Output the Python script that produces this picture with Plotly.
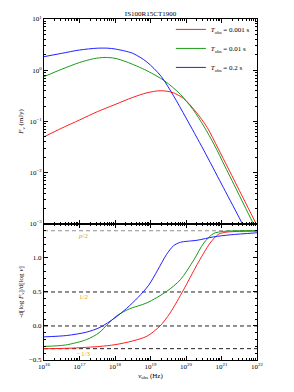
import plotly.graph_objects as go

# ---------------- data ----------------
title_text = "IS100R15CT1900"
labels = ["<i>T</i><sub>obs</sub> = 0.001 s", "<i>T</i><sub>obs</sub> = 0.01 s", "<i>T</i><sub>obs</sub> = 0.2 s"]
colors = ["#ff2020", "#1a9a1a", "#2020ff"]

# top panel: log10(nu) and flux density F_nu (mJy)
nu_red_top = [16, 16.5, 17, 17.5, 18, 18.5, 18.9, 19.27, 19.6, 19.93, 20.3, 20.6, 20.9, 21.2, 21.6, 22]
F_red = [0.0501, 0.0741, 0.107, 0.155, 0.214, 0.295, 0.363, 0.398, 0.372, 0.282, 0.148, 0.0759, 0.0302, 0.01175, 0.00331, 0.000933]

nu_green_top = [16, 16.5, 17, 17.4, 17.72, 18, 18.33, 18.9, 19.4, 19.84, 20.2, 20.5, 20.8, 21.1, 21.5, 22]
F_green = [0.750, 1.047, 1.413, 1.679, 1.778, 1.710, 1.452, 0.977, 0.617, 0.339, 0.170, 0.0813, 0.0347, 0.01318, 0.00363, 0.000724]

nu_blue_top = [16, 16.5, 17, 17.5, 17.8, 18, 18.5, 18.9, 19.3, 19.65, 20, 20.5, 21, 21.5, 22]
F_blue = [1.841, 2.138, 2.483, 2.692, 2.692, 2.600, 2.138, 1.445, 0.759, 0.316, 0.1175, 0.0275, 0.00603, 0.00132, 0.000282]

# bottom panel: spectral index -dlogF/dlognu
nu_red_bot = [16, 16.8, 17.58, 18, 18.5, 18.9, 19.27, 19.55, 19.93, 20.31, 20.68, 20.92, 21.15, 21.5, 22]
s_red = [-0.335, -0.325, -0.30, -0.275, -0.22, -0.15, 0.0, 0.19, 0.53, 0.90, 1.22, 1.35, 1.38, 1.39, 1.395]

nu_green_bot = [16, 16.6, 17.2, 17.55, 17.8, 18.05, 18.4, 18.9, 19.46, 19.84, 20.22, 20.5, 20.78, 21.06, 21.5, 22]
s_green = [-0.30, -0.28, -0.20, -0.10, 0.03, 0.15, 0.25, 0.34, 0.51, 0.68, 0.97, 1.22, 1.36, 1.39, 1.40, 1.40]

nu_blue_bot = [16, 16.64, 17.2, 17.58, 18, 18.33, 18.65, 18.95, 19.2, 19.45, 19.65, 19.84, 20.31, 20.78, 21.25, 22]
s_blue = [-0.16, -0.14, -0.09, -0.02, 0.12, 0.26, 0.42, 0.60, 0.82, 1.05, 1.18, 1.23, 1.26, 1.31, 1.34, 1.37]

ref_values = [1.4, 0.5, 0.0, -1/3]
ref_colors = ["#909090", "#222222", "#222222", "#222222"]
ref_labels = ["<i>p</i>/2", "1/2", None, "\u22121/3"]

x_tickvals = [16, 17, 18, 19, 20, 21, 22]
x_ticktext = ["10<sup>%d</sup>" % v for v in x_tickvals]
y1_tickvals = [1e-3, 1e-2, 1e-1, 1e0, 1e1]
y1_ticktext = ["10<sup>\u22123</sup>", "10<sup>\u22122</sup>", "10<sup>\u22121</sup>", "10<sup>0</sup>", "10<sup>1</sup>"]
y2_tickvals = [-0.5, 0.0, 0.5, 1.0]
y2_ticktext = ["\u22120.5", "0.0", "0.5", "1.0"]

# ---------------- figure ----------------
FONT = "Liberation Serif"
fig = go.Figure()

tops = [(nu_red_top, F_red), (nu_green_top, F_green), (nu_blue_top, F_blue)]
bots = [(nu_red_bot, s_red), (nu_green_bot, s_green), (nu_blue_bot, s_blue)]

for (x, y), c, lab in zip(tops, colors, labels):
    fig.add_trace(go.Scatter(x=[10.0 ** v for v in x], y=y, mode="lines", name=lab,
                             line=dict(color=c, width=1, shape="spline", smoothing=0.8),
                             xaxis="x", yaxis="y"))

for v, c in zip(ref_values, ref_colors):
    fig.add_trace(go.Scatter(x=[1e16, 1e22], y=[v, v], mode="lines", showlegend=False,
                             line=dict(color=c, width=1, dash="4px,3px"),
                             xaxis="x2", yaxis="y2"))

for (x, y), c in zip(bots, colors):
    fig.add_trace(go.Scatter(x=[10.0 ** v for v in x], y=y, mode="lines", showlegend=False,
                             line=dict(color=c, width=1, shape="spline", smoothing=0.8),
                             xaxis="x2", yaxis="y2"))

for v, lab in zip(ref_values, ref_labels):
    if lab:
        fig.add_annotation(x=17.1, y=v - 0.075, xref="x2", yref="y2", text=lab,
                           showarrow=False, yanchor="middle", xanchor="center",
                           font=dict(family=FONT, size=7, color="#f0a020"))

split = 0.399
axis_common = dict(showline=True, linecolor="black", linewidth=1, mirror="allticks",
                   ticks="inside", ticklen=4, tickcolor="black", showgrid=False,
                   zeroline=False, tickfont=dict(family=FONT, size=7, color="black"))

x_tv = [10.0 ** v for v in x_tickvals]

# the page places the figure 8 px in from the top-left corner
fig.update_layout(
    width=286, height=384,
    margin=dict(l=36, r=37, t=11, b=32, autoexpand=False),
    paper_bgcolor="white", plot_bgcolor="white",
    font=dict(family=FONT, size=7, color="black"),
    title=dict(text=title_text, x=0.5, xref="paper", xanchor="center",
               y=1 - 6 / 384, yanchor="middle", yref="container",
               font=dict(family=FONT, size=7, color="black")),
    showlegend=True,
    legend=dict(x=0.99, y=1.012, xanchor="right", yanchor="top", bgcolor="rgba(0,0,0,0)",
                font=dict(family=FONT, size=7), itemwidth=30, tracegroupgap=0),
    xaxis=dict(type="log", range=[16, 22], domain=[0, 1], anchor="y",
               tickvals=x_tv, ticktext=[""] * len(x_tickvals),
               minor=dict(ticks="inside", ticklen=2, tickcolor="black", dtick="D1"),
               **axis_common),
    yaxis=dict(type="log", range=[-3, 1], domain=[split, 1], anchor="x",
               tickvals=y1_tickvals, ticktext=y1_ticktext,
               minor=dict(ticks="inside", ticklen=2, tickcolor="black", dtick="D1"),
               title=dict(text="<i>F</i><sub>ν</sub> (mJy)", standoff=4,
                          font=dict(family=FONT, size=7)),
               **axis_common),
    xaxis2=dict(type="log", range=[16, 22], domain=[0, 1], anchor="y2",
                tickvals=x_tv, ticktext=x_ticktext,
                minor=dict(ticks="inside", ticklen=2, tickcolor="black", dtick="D1"),
                title=dict(text="<i>ν</i><sub>obs</sub> (Hz)", standoff=2,
                           font=dict(family=FONT, size=7)),
                **axis_common),
    yaxis2=dict(range=[-0.5, 1.5], domain=[0, split], anchor="x2",
                tickvals=y2_tickvals, ticktext=y2_ticktext,
                minor=dict(ticks="inside", ticklen=2, tickcolor="black", dtick=0.1),
                title=dict(text="-d[log <i>F</i><sub>ν</sub>]/d[log <i>ν</i>]", standoff=4,
                           font=dict(family=FONT, size=7)),
                **axis_common),
)

fig.write_html("out.html")
